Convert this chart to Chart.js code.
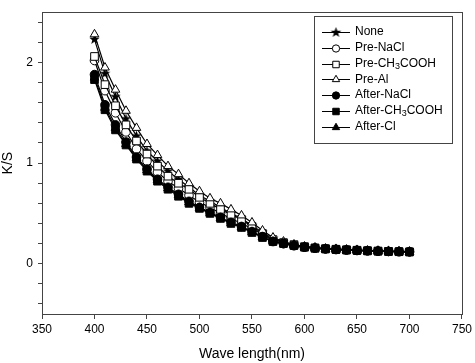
<!DOCTYPE html>
<html>
<head>
<meta charset="utf-8">
<script src="https://cdn.jsdelivr.net/npm/chart.js@4"></script>
<style>
  html, body { margin: 0; padding: 0; background: #fff; }
  #wrap { width: 475px; height: 363px; }
</style>
</head>
<body>
<div id="wrap"><canvas id="myChart" width="475" height="363"></canvas></div>
<script>
const wavelengths = [400, 410, 420, 430, 440, 450, 460, 470, 480, 490, 500, 510, 520, 530, 540, 550, 560, 570, 580, 590, 600, 610, 620, 630, 640, 650, 660, 670, 680, 690, 700];

const none = [2.23, 1.89, 1.66, 1.44, 1.27, 1.12, 1.02, 0.92, 0.84, 0.76, 0.68, 0.62, 0.56, 0.50, 0.45, 0.38, 0.31, 0.25, 0.21, 0.19, 0.17, 0.16, 0.15, 0.145, 0.14, 0.135, 0.13, 0.127, 0.125, 0.122, 0.12];
const preNaCl = [2.02, 1.72, 1.50, 1.31, 1.14, 1.02, 0.91, 0.82, 0.75, 0.68, 0.61, 0.56, 0.50, 0.45, 0.40, 0.35, 0.29, 0.23, 0.20, 0.18, 0.165, 0.155, 0.148, 0.142, 0.137, 0.132, 0.128, 0.125, 0.122, 0.12, 0.118];
const preAcetic = [2.06, 1.78, 1.57, 1.38, 1.22, 1.09, 0.97, 0.87, 0.80, 0.74, 0.66, 0.60, 0.54, 0.49, 0.44, 0.37, 0.30, 0.24, 0.21, 0.19, 0.17, 0.158, 0.15, 0.144, 0.139, 0.134, 0.13, 0.126, 0.123, 0.12, 0.118];
const preAl = [2.28, 1.95, 1.73, 1.52, 1.35, 1.19, 1.08, 0.97, 0.89, 0.80, 0.72, 0.65, 0.60, 0.54, 0.48, 0.41, 0.33, 0.26, 0.22, 0.19, 0.17, 0.16, 0.15, 0.145, 0.14, 0.135, 0.13, 0.128, 0.125, 0.122, 0.12];
const afterNaCl = [1.88, 1.58, 1.38, 1.21, 1.06, 0.94, 0.84, 0.76, 0.69, 0.62, 0.56, 0.51, 0.46, 0.41, 0.37, 0.32, 0.27, 0.22, 0.20, 0.18, 0.165, 0.155, 0.147, 0.141, 0.136, 0.132, 0.128, 0.125, 0.122, 0.12, 0.118];
const afterAcetic = [1.83, 1.53, 1.33, 1.18, 1.04, 0.92, 0.82, 0.74, 0.67, 0.60, 0.55, 0.50, 0.45, 0.40, 0.36, 0.31, 0.26, 0.22, 0.20, 0.18, 0.163, 0.153, 0.146, 0.14, 0.135, 0.131, 0.127, 0.124, 0.121, 0.119, 0.117];
const afterCl = [1.85, 1.55, 1.35, 1.19, 1.05, 0.93, 0.83, 0.75, 0.68, 0.61, 0.555, 0.505, 0.455, 0.405, 0.365, 0.315, 0.265, 0.22, 0.20, 0.18, 0.164, 0.154, 0.146, 0.14, 0.135, 0.131, 0.127, 0.124, 0.121, 0.119, 0.117];

// legend text, "_3" marks a subscript
const seriesNames = ["None", "Pre-NaCl", "Pre-CH_3COOH", "Pre-Al", "After-NaCl", "After-CH_3COOH", "After-Cl"];
const xTicks = [350, 400, 450, 500, 550, 600, 650, 700, 750];
const yTickLabels = [0, 1, 2];

const FONT = "'Liberation Sans', Arial, sans-serif";
const AXIS = "#444";

// filled five point star, Chart.js only has a line star
function makeStar(r) {
  const c = document.createElement("canvas");
  const s = Math.ceil(r * 2 + 2);
  c.width = s;
  c.height = s;
  const g = c.getContext("2d");
  g.beginPath();
  for (let i = 0; i < 10; i++) {
    const rad = i % 2 === 0 ? r : r * 0.42;
    const a = -Math.PI / 2 + (i * Math.PI) / 5;
    const px = s / 2 + rad * Math.cos(a);
    const py = s / 2 + rad * Math.sin(a);
    if (i === 0) g.moveTo(px, py);
    else g.lineTo(px, py);
  }
  g.closePath();
  g.fillStyle = "#000";
  g.fill();
  return c;
}
const starImg = makeStar(5.5);

function toPoints(values) {
  return values.map((v, i) => ({ x: wavelengths[i], y: v }));
}

const markers = [
  { style: starImg, fill: "#000", r: 5.5 },
  { style: "circle", fill: "#fff", r: 4.3 },
  { style: "rect", fill: "#fff", r: 5.4 },
  { style: "triangle", fill: "#fff", r: 5 },
  { style: "circle", fill: "#000", r: 4.3 },
  { style: "rect", fill: "#000", r: 5.4 },
  { style: "triangle", fill: "#000", r: 5 },
];
const seriesValues = [none, preNaCl, preAcetic, preAl, afterNaCl, afterAcetic, afterCl];
// lower order is drawn on top: filled squares end up uppermost
const drawOrder = [7, 6, 5, 4, 3, 1, 2];

const datasets = seriesValues.map((vals, i) => ({
  label: seriesNames[i].replace("_", ""),
  data: toPoints(vals),
  order: drawOrder[i],
  borderColor: "#000",
  borderWidth: 1.2,
  backgroundColor: markers[i].fill,
  pointStyle: markers[i].style,
  pointRadius: markers[i].r,
  pointBackgroundColor: markers[i].fill,
  pointBorderColor: "#000",
  pointBorderWidth: 1,
  tension: 0,
}));

function drawMarker(ctx, m, x, y) {
  ctx.save();
  ctx.fillStyle = m.fill;
  ctx.strokeStyle = "#000";
  ctx.lineWidth = 1;
  if (m.style === starImg) {
    ctx.drawImage(starImg, x - starImg.width / 2, y - starImg.height / 2);
    ctx.restore();
    return;
  }
  ctx.beginPath();
  if (m.style === "circle") {
    ctx.arc(x, y, m.r, 0, Math.PI * 2);
  } else if (m.style === "rect") {
    const h = m.r * Math.SQRT1_2;
    ctx.rect(x - h, y - h, h * 2, h * 2);
  } else {
    const r = m.r;
    ctx.moveTo(x, y - r);
    ctx.lineTo(x + r * 0.866, y + r * 0.5);
    ctx.lineTo(x - r * 0.866, y + r * 0.5);
    ctx.closePath();
  }
  ctx.fill();
  ctx.stroke();
  ctx.restore();
}

const framePlugin = {
  id: "frame",
  afterDraw(chart) {
    const ctx = chart.ctx;
    const a = chart.chartArea;
    ctx.save();
    ctx.strokeStyle = AXIS;
    ctx.lineWidth = 1;
    ctx.strokeRect(Math.round(a.left) + 0.5, Math.round(a.top) + 0.5, Math.round(a.right - a.left), Math.round(a.bottom - a.top));

    // legend box
    const bx = 314, by = 16, bw = 138, bh = 127;
    ctx.fillStyle = "#fff";
    ctx.fillRect(bx, by, bw, bh);
    ctx.strokeRect(bx + 0.5, by + 0.5, bw, bh);
    ctx.textBaseline = "middle";
    seriesNames.forEach((name, i) => {
      const y = 32 + i * 15.75;
      ctx.beginPath();
      ctx.strokeStyle = "#000";
      ctx.moveTo(322, Math.round(y) + 0.5);
      ctx.lineTo(350, Math.round(y) + 0.5);
      ctx.stroke();
      drawMarker(ctx, { ...markers[i], r: markers[i].r * 0.85 }, 336, Math.round(y) + 0.5);
      ctx.fillStyle = "#000";
      let tx = 355;
      const parts = name.split("_");
      ctx.font = "12px " + FONT;
      ctx.fillText(parts[0], tx, y);
      if (parts.length > 1) {
        tx += ctx.measureText(parts[0]).width;
        ctx.font = "9px " + FONT;
        ctx.fillText(parts[1][0], tx, y + 3);
        tx += ctx.measureText(parts[1][0]).width;
        ctx.font = "12px " + FONT;
        ctx.fillText(parts[1].slice(1), tx, y);
      }
    });
    ctx.restore();
  },
};

new Chart(document.getElementById("myChart"), {
  type: "line",
  data: { datasets: datasets },
  options: {
    responsive: false,
    animation: false,
    layout: { padding: { top: 10, right: 12, left: 0, bottom: 0 } },
    plugins: { legend: { display: false }, tooltip: { enabled: false } },
    scales: {
      x: {
        type: "linear",
        min: 350,
        max: 750,
        afterBuildTicks: (scale) => {
          scale.ticks = xTicks.map((v) => ({ value: v }));
        },
        afterFit: (scale) => {
          scale.height = 49;
        },
        ticks: {
          color: "#000",
          font: { family: FONT, size: 12 },
          padding: 3,
          maxRotation: 0,
        },
        grid: { drawOnChartArea: false, tickLength: 5, color: AXIS },
        border: { color: AXIS },
        title: {
          display: true,
          text: "Wave length(nm)",
          color: "#000",
          font: { family: FONT, size: 14 },
          padding: { top: 2, bottom: 0 },
        },
      },
      y: {
        min: -0.5,
        max: 2.5,
        afterBuildTicks: (scale) => {
          const t = [];
          for (let k = -2; k <= 12; k++) t.push({ value: Math.round(k * 20) / 100 });
          scale.ticks = t;
        },
        afterFit: (scale) => {
          scale.width = 42;
        },
        ticks: {
          color: "#000",
          font: { family: FONT, size: 12 },
          padding: 5,
          autoSkip: false,
          callback: (v) => (yTickLabels.includes(v) ? String(v) : ""),
        },
        grid: { drawOnChartArea: false, tickLength: 4, color: AXIS },
        border: { color: AXIS },
        title: {
          display: true,
          text: "K/S",
          color: "#000",
          font: { family: FONT, size: 14 },
          padding: { top: 0, bottom: 0 },
        },
      },
    },
  },
  plugins: [framePlugin],
});
</script>
</body>
</html>
